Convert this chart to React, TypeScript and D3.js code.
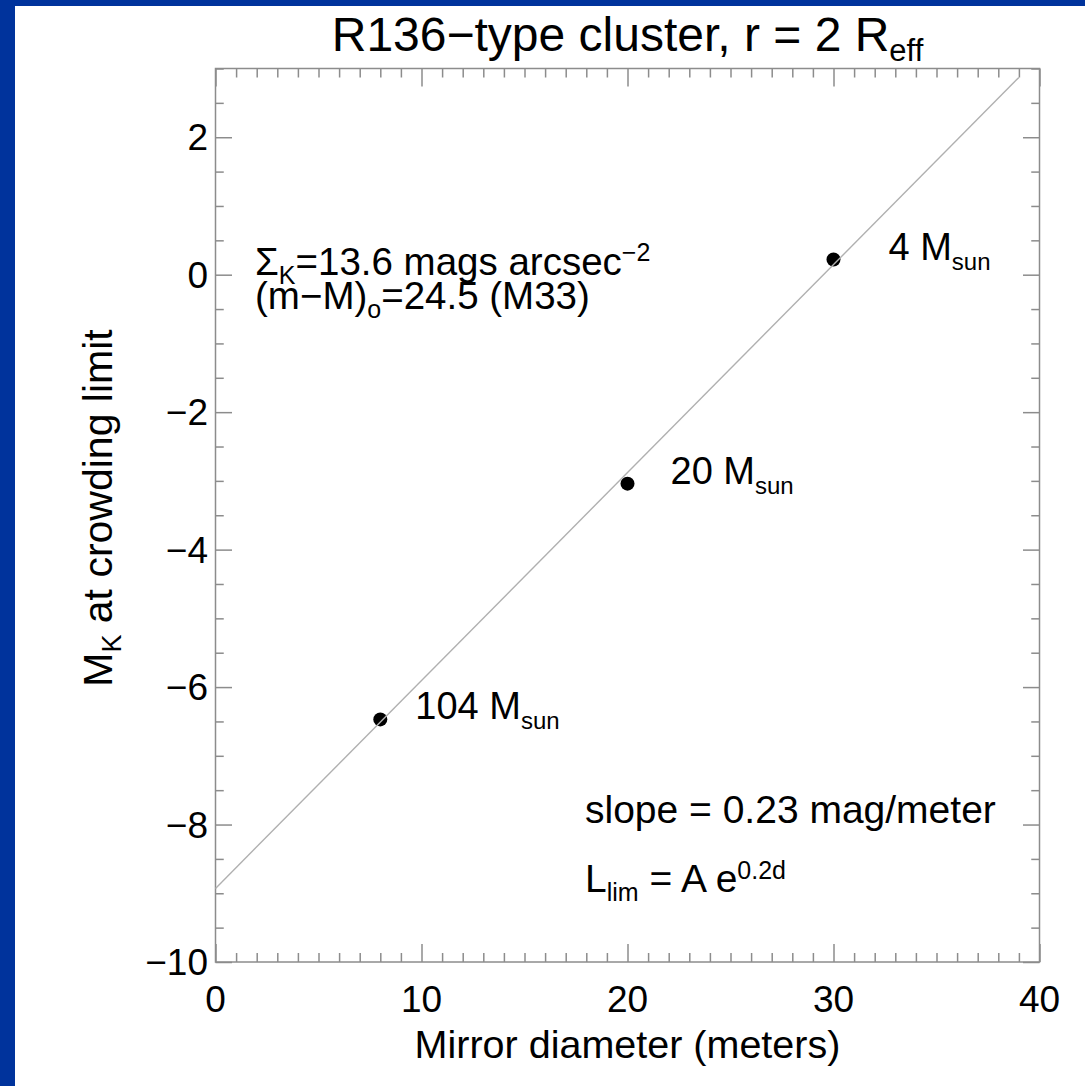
import React, { useEffect, useRef } from "react";
import * as d3 from "d3";

const WIDTH = 1085;
const HEIGHT = 1086;

// Axis ranges and ticks
const xDomain = [0, 40];
const yDomain = [-10, 3];
const xMajorTicks = [0, 10, 20, 30, 40];
const yMajorTicks = [-10, -8, -6, -4, -2, 0, 2];
const xTickLabels = ["0", "10", "20", "30", "40"];
const yTickLabels = ["−10", "−8", "−6", "−4", "−2", "0", "2"];

// Crowding-limit magnitudes versus mirror diameter
const diameters = [8, 20, 30];
const crowdingMag = [-6.47, -3.04, 0.22];
const clusterMasses = ["104", "20", "4"];

// Linear fit through the points
const fitDiameters = [0, 39];
const fitMags = [-8.93, 2.87];

// Layout
const frame = { left: 215.5, right: 1039.5, top: 68.5, bottom: 962 };
const massLabelDx = [35, 43, 55];
const FONT = "'Liberation Sans', Arial, Helvetica, sans-serif";
const AXIS_COLOR = "#8c8c8c";
const BORDER_BLUE = "#00339c";

export default function App() {
  const ref = useRef<SVGSVGElement>(null);

  useEffect(() => {
    const svg = d3.select(ref.current);
    svg.selectAll("*").remove();

    const x = d3.scaleLinear().domain(xDomain).range([frame.left, frame.right]);
    const y = d3.scaleLinear().domain(yDomain).range([frame.bottom, frame.top]);

    // page background and blue border
    svg.append("rect").attr("width", WIDTH).attr("height", HEIGHT).attr("fill", "#fff");
    svg.append("rect").attr("width", WIDTH).attr("height", 6).attr("fill", BORDER_BLUE);
    svg.append("rect").attr("width", 15).attr("height", HEIGHT).attr("fill", BORDER_BLUE);

    const xMinor = d3.range(xDomain[0], xDomain[1] + 1, 1).filter((v) => !xMajorTicks.includes(v));
    const yMinor = d3.range(yDomain[0], yDomain[1] + 0.01, 0.5).filter((v) => !yMajorTicks.includes(v));

    const xMajorLen = 18;
    const yMajorLen = 16.5;

    const styleAxis = (g: d3.Selection<SVGGElement, unknown, null, undefined>) => {
      g.select(".domain").remove();
      g.selectAll("line").attr("stroke", AXIS_COLOR).attr("stroke-width", 1.5);
      g.selectAll("text").remove();
    };

    const axes = svg.append("g");
    // bottom and top
    axes.append("g").attr("transform", `translate(0,${frame.bottom})`)
      .call(d3.axisBottom(x).tickValues(xMinor).tickSize(-xMajorLen / 2).tickFormat(() => "")).call(styleAxis);
    axes.append("g").attr("transform", `translate(0,${frame.bottom})`)
      .call(d3.axisBottom(x).tickValues(xMajorTicks).tickSize(-xMajorLen).tickFormat(() => "")).call(styleAxis);
    axes.append("g").attr("transform", `translate(0,${frame.top})`)
      .call(d3.axisTop(x).tickValues(xMinor).tickSize(-xMajorLen / 2).tickFormat(() => "")).call(styleAxis);
    axes.append("g").attr("transform", `translate(0,${frame.top})`)
      .call(d3.axisTop(x).tickValues(xMajorTicks).tickSize(-xMajorLen).tickFormat(() => "")).call(styleAxis);
    // left and right
    axes.append("g").attr("transform", `translate(${frame.left},0)`)
      .call(d3.axisLeft(y).tickValues(yMinor).tickSize(-yMajorLen / 2).tickFormat(() => "")).call(styleAxis);
    axes.append("g").attr("transform", `translate(${frame.left},0)`)
      .call(d3.axisLeft(y).tickValues(yMajorTicks).tickSize(-yMajorLen).tickFormat(() => "")).call(styleAxis);
    axes.append("g").attr("transform", `translate(${frame.right},0)`)
      .call(d3.axisRight(y).tickValues(yMinor).tickSize(-yMajorLen / 2).tickFormat(() => "")).call(styleAxis);
    axes.append("g").attr("transform", `translate(${frame.right},0)`)
      .call(d3.axisRight(y).tickValues(yMajorTicks).tickSize(-yMajorLen).tickFormat(() => "")).call(styleAxis);

    // plot frame
    svg.append("rect")
      .attr("x", frame.left).attr("y", frame.top)
      .attr("width", frame.right - frame.left).attr("height", frame.bottom - frame.top)
      .attr("fill", "none").attr("stroke", AXIS_COLOR).attr("stroke-width", 1.5);

    const text = svg.append("g").attr("font-family", FONT).attr("fill", "#000");

    // tick labels
    text.selectAll(".xt").data(xMajorTicks).join("text")
      .attr("x", (d) => x(d)).attr("y", 1012)
      .attr("text-anchor", "middle").attr("font-size", 37)
      .text((d, i) => xTickLabels[i]);
    text.selectAll(".yt").data(yMajorTicks).join("text")
      .attr("x", 208).attr("y", (d) => y(d) + 13)
      .attr("text-anchor", "end").attr("font-size", 37)
      .text((d, i) => yTickLabels[i]);

    // axis titles
    text.append("text")
      .attr("x", (frame.left + frame.right) / 2).attr("y", 1058)
      .attr("text-anchor", "middle").attr("font-size", 39.5)
      .text("Mirror diameter (meters)");

    const yTitle = text.append("text")
      .attr("transform", "translate(112,508) rotate(-90)")
      .attr("text-anchor", "middle").attr("font-size", 41);
    yTitle.append("tspan").text("M");
    yTitle.append("tspan").attr("font-size", 27).attr("dy", 9).text("K");
    yTitle.append("tspan").attr("dy", -9).text(" at crowding limit");

    // title
    const title = text.append("text")
      .attr("x", (frame.left + frame.right) / 2).attr("y", 51)
      .attr("text-anchor", "middle").attr("font-size", 48);
    title.append("tspan").text("R136−type cluster, r = 2 R");
    title.append("tspan").attr("font-size", 31).attr("dy", 10).text("eff");

    // data points
    const pts = diameters.map((d, i) => ({ d, m: crowdingMag[i], mass: clusterMasses[i], dx: massLabelDx[i] }));
    svg.append("g").selectAll("circle").data(pts).join("circle")
      .attr("cx", (p) => x(p.d)).attr("cy", (p) => y(p.m)).attr("r", 7).attr("fill", "#000");

    // fit line
    const line = d3.line<[number, number]>().x((p) => x(p[0])).y((p) => y(p[1]));
    svg.append("path")
      .datum(fitDiameters.map((d, i) => [d, fitMags[i]] as [number, number]))
      .attr("d", line).attr("fill", "none").attr("stroke", "#b0b0b0").attr("stroke-width", 1.4);

    // mass labels
    pts.forEach((p) => {
      const t = text.append("text")
        .attr("x", x(p.d) + p.dx).attr("y", y(p.m))
        .attr("font-size", 38);
      t.append("tspan").text(`${p.mass} M`);
      t.append("tspan").attr("font-size", 24).attr("dy", 10).text("sun");
    });

    // annotations
    const s1 = text.append("text").attr("x", 255).attr("y", 275).attr("font-size", 38.5);
    s1.append("tspan").text("Σ");
    s1.append("tspan").attr("font-size", 25).attr("dy", 9).text("K");
    s1.append("tspan").attr("dy", -9).text("=13.6 mags arcsec");
    s1.append("tspan").attr("font-size", 25).attr("dy", -14).text("−2");

    const s2 = text.append("text").attr("x", 255).attr("y", 309).attr("font-size", 38.5);
    s2.append("tspan").text("(m−M)");
    s2.append("tspan").attr("font-size", 25).attr("dy", 9).text("o");
    s2.append("tspan").attr("dy", -9).text("=24.5 (M33)");

    text.append("text").attr("x", 585).attr("y", 823).attr("font-size", 39)
      .text("slope = 0.23 mag/meter");

    const s4 = text.append("text").attr("x", 585).attr("y", 892).attr("font-size", 39);
    s4.append("tspan").text("L");
    s4.append("tspan").attr("font-size", 25).attr("dy", 9).text("lim");
    s4.append("tspan").attr("dy", -9).text(" = A e");
    s4.append("tspan").attr("font-size", 25).attr("dy", -13).text("0.2d");
  }, []);

  return (
    <svg
      ref={ref}
      width={WIDTH}
      height={HEIGHT}
      style={{ position: "absolute", left: 0, top: 0, display: "block" }}
    />
  );
}
